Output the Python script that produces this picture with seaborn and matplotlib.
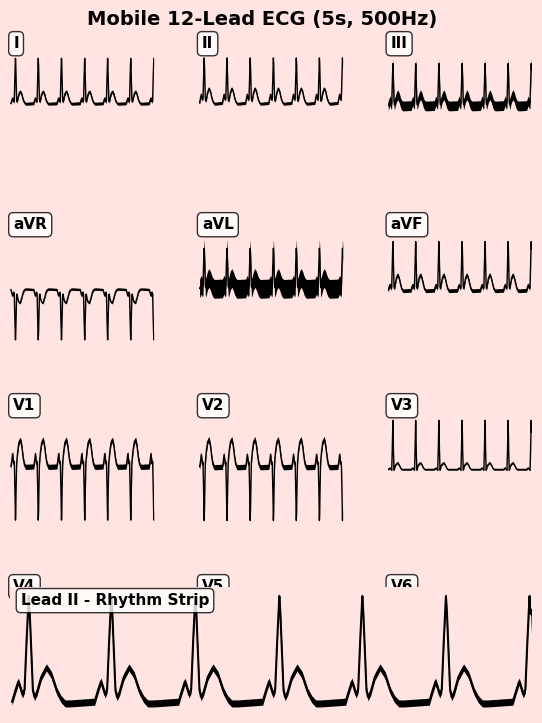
import pandas as pd
import seaborn as sns
import matplotlib.pyplot as plt

# 12 derivaciones, ventana de 5 s, valores en mV
LEADS = ['I', 'II', 'III', 'aVR', 'aVL', 'aVF', 'V1', 'V2', 'V3', 'V4', 'V5', 'V6']

# instantes de los picos R (s)
R_TIMES = [0.176, 0.969, 1.776, 2.583, 3.380, 4.183, 4.986]

# desplazamientos respecto al pico R (s) donde se lee cada latido
OFFSETS = [-0.40, -0.16, -0.13, -0.10, -0.08, -0.06, -0.04, -0.02, 0.00, 0.01,
           0.02, 0.04, 0.055, 0.08, 0.12, 0.17, 0.22, 0.27, 0.31, 0.35]

LEAD_I = [0.00, 0.01, 0.08, 0.15, 0.10, 0.05, 0.10, 0.72, 1.21, 1.01,
          0.72, 0.12, 0.05, 0.12, 0.26, 0.33, 0.25, 0.10, 0.03, 0.00]
LEAD_II = [0.00, 0.02, 0.14, 0.25, 0.18, 0.10, 0.16, 0.73, 1.22, 1.02,
           0.73, 0.15, 0.07, 0.13, 0.30, 0.41, 0.32, 0.14, 0.05, 0.00]
LEAD_III = [-0.06, -0.05, 0.02, 0.08, 0.03, -0.02, 0.02, 0.60, 1.07, 0.90,
            0.60, 0.05, -0.03, 0.05, 0.17, 0.24, 0.16, 0.02, -0.04, -0.06]
LEAD_AVR = [-0.12, -0.13, -0.22, -0.30, -0.25, -0.20, -0.26, -0.95, -1.47, -1.25,
            -0.90, -0.30, -0.25, -0.38, -0.47, -0.48, -0.35, -0.20, -0.14, -0.12]
LEAD_AVL = [-0.11, -0.10, -0.05, 0.00, -0.04, -0.08, -0.02, 0.55, 0.97, 0.80,
            0.50, -0.02, -0.08, 0.00, 0.12, 0.18, 0.10, -0.02, -0.08, -0.11]
LEAD_AVF = [-0.16, -0.15, -0.06, 0.00, -0.05, -0.10, -0.05, 0.55, 1.15, 0.95,
            0.55, -0.05, -0.10, 0.00, 0.18, 0.27, 0.17, 0.00, -0.12, -0.16]
LEAD_V1 = [-0.03, -0.02, 0.12, 0.32, 0.18, 0.05, 0.10, -0.60, -1.45, -1.20,
           -0.70, 0.05, 0.20, 0.40, 0.62, 0.70, 0.52, 0.20, 0.03, -0.03]
LEAD_V2 = [-0.04, -0.03, 0.10, 0.30, 0.16, 0.04, 0.08, -0.62, -1.46, -1.20,
           -0.70, 0.05, 0.22, 0.42, 0.64, 0.71, 0.52, 0.20, 0.02, -0.04]
LEAD_V3 = [-0.10, -0.10, -0.08, -0.06, -0.08, -0.10, -0.12, 0.45, 1.21, 0.90,
           0.40, -0.12, -0.08, 0.00, 0.04, 0.08, 0.02, -0.06, -0.10, -0.10]
LEAD_V4 = [-0.05, -0.05, 0.05, 0.12, 0.06, 0.00, -0.05, 0.60, 1.30, 1.10,
           0.60, -0.20, -0.15, 0.00, 0.20, 0.30, 0.20, 0.05, -0.03, -0.05]
LEAD_V5 = [0.00, 0.01, 0.08, 0.15, 0.10, 0.05, 0.10, 0.70, 1.15, 0.95,
           0.70, 0.10, 0.05, 0.12, 0.25, 0.32, 0.24, 0.10, 0.03, 0.00]
LEAD_V6 = [0.00, 0.01, 0.10, 0.20, 0.14, 0.08, 0.12, 0.60, 1.00, 0.85,
           0.60, 0.12, 0.05, 0.10, 0.24, 0.32, 0.25, 0.11, 0.04, 0.00]

# amplitud del ruido de cada derivacion (mV)
NOISE = [0.04, 0.04, 0.13, 0.03, 0.25, 0.05, 0.07, 0.07, 0.02, 0.04, 0.04, 0.04]

beats = dict(zip(LEADS, [LEAD_I, LEAD_II, LEAD_III, LEAD_AVR, LEAD_AVL, LEAD_AVF,
                         LEAD_V1, LEAD_V2, LEAD_V3, LEAD_V4, LEAD_V5, LEAD_V6]))
rows = []
for lead, vals in beats.items():
    for r in R_TIMES:
        for off, v in zip(OFFSETS, vals):
            t = r + off
            if 0 <= t <= 5:
                rows.append((lead, t, v))
df = pd.DataFrame(rows, columns=['lead', 'time', 'mV'])

BG = 'mistyrose'
W, H = 542, 723
fig = plt.figure(figsize=(W / 100, H / 100), dpi=100, facecolor=BG)


def px_axes(left, top, width, height):
    return fig.add_axes([left / W, 1 - (top + height) / H, width / W, height / H])


box = dict(boxstyle='round,pad=0.3', facecolor='white', edgecolor='black', alpha=0.8)
col_left = [10.4, 199.1, 387.8]

for i, lead in enumerate(LEADS):
    r, c = divmod(i, 3)
    ax = px_axes(col_left[c], 28.7 + 181 * r, 143.8, 150)
    d = df[df['lead'] == lead]
    n = NOISE[i]
    ax.fill_between(d['time'], d['mV'] - n, d['mV'] + n, color='black', lw=0)
    sns.lineplot(data=d, x='time', y='mV', ax=ax, color='black', lw=1.0)
    ax.set_xlim(0, 5)
    ax.set_ylim(-2, 2)
    ax.axis('off')
    ax.text(0.02, 0.95, lead, transform=ax.transAxes, fontsize=11, fontweight='bold',
            va='top', ha='left', bbox=box)

# tira de ritmo (derivacion II) encima de la ultima fila
axr = px_axes(10.4, 586.8, 520.6, 125.9)
axr.set_facecolor(BG)
d = df[df['lead'] == 'II']
n = NOISE[1]
axr.fill_between(d['time'], d['mV'] - n, d['mV'] + n, color='black', lw=0)
sns.lineplot(data=d, x='time', y='mV', ax=axr, color='black', lw=1.5)
axr.set_xlim(0, 5)
axr.set_xticks([])
axr.set_yticks([])
axr.set_xlabel('')
axr.set_ylabel('')
sns.despine(ax=axr, left=True, bottom=True)
axr.text(0.02, 0.95, 'Lead II - Rhythm Strip', transform=axr.transAxes, fontsize=11,
         fontweight='bold', va='top', ha='left', bbox=box)

fig.text(262.5 / W, 1 - 25 / H, 'Mobile 12-Lead ECG (5s, 500Hz)', fontsize=14,
         fontweight='bold', ha='center', va='baseline')

fig.savefig('out.png', dpi=100, facecolor=BG)
